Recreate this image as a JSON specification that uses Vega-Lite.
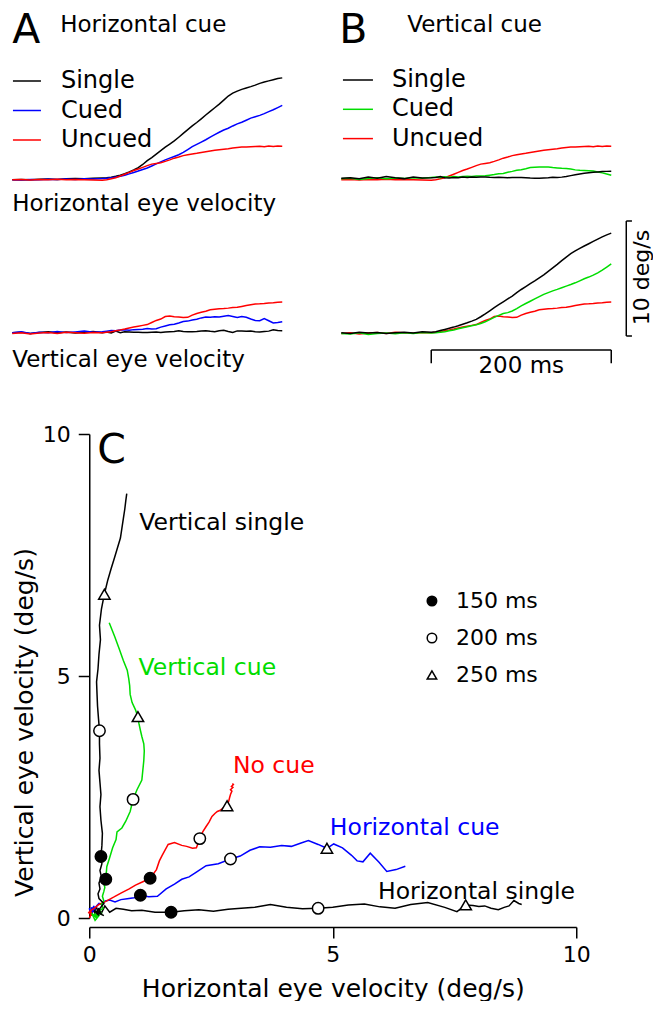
{
  "$schema": "https://vega.github.io/schema/vega-lite/v6.json",
  "background": "white",
  "padding": {"left": 8.25, "top": 0, "right": 0, "bottom": 0},
  "bounds": "flush",
  "spacing": 0,
  "config": {
    "font": "DejaVu Sans",
    "view": {"stroke": null},
    "axis": {"labelColor": "black", "titleColor": "black", "domainColor": "black", "tickColor": "black", "titleFontWeight": "normal", "grid": false},
    "legend": {"labelColor": "black", "labelFont": "DejaVu Sans", "padding": 0}
  },
  "resolve": {"scale": {"x": "independent", "y": "independent", "color": "independent", "shape": "independent", "fill": "independent", "stroke": "independent"}, "legend": {"color": "independent", "shape": "independent", "fill": "independent", "stroke": "independent"}},
  "datasets": {
    "traces": [
      {"cond":"Horizontal single","t":0,"h":0.02,"v":0.1},
      {"cond":"Horizontal single","t":10,"h":0.05,"v":0.15},
      {"cond":"Horizontal single","t":20,"h":0.03,"v":0.05},
      {"cond":"Horizontal single","t":30,"h":0.06,"v":0.12},
      {"cond":"Horizontal single","t":40,"h":0.08,"v":0.2},
      {"cond":"Horizontal single","t":50,"h":0.05,"v":0.1},
      {"cond":"Horizontal single","t":60,"h":0.1,"v":0.18},
      {"cond":"Horizontal single","t":70,"h":0.12,"v":0.08},
      {"cond":"Horizontal single","t":80,"h":0.1,"v":0.15},
      {"cond":"Horizontal single","t":90,"h":0.15,"v":0.22},
      {"cond":"Horizontal single","t":100,"h":0.18,"v":0.12},
      {"cond":"Horizontal single","t":105,"h":0.2,"v":0.18},
      {"cond":"Horizontal single","t":110,"h":0.25,"v":0.1},
      {"cond":"Horizontal single","t":115,"h":0.32,"v":0.25},
      {"cond":"Horizontal single","t":120,"h":0.42,"v":0.12},
      {"cond":"Horizontal single","t":125,"h":0.55,"v":0.2},
      {"cond":"Horizontal single","t":130,"h":0.7,"v":0.18},
      {"cond":"Horizontal single","t":135,"h":0.87,"v":0.15},
      {"cond":"Horizontal single","t":140,"h":1.08,"v":0.16},
      {"cond":"Horizontal single","t":145,"h":1.35,"v":0.12},
      {"cond":"Horizontal single","t":150,"h":1.68,"v":0.12},
      {"cond":"Horizontal single","t":155,"h":1.95,"v":0.15},
      {"cond":"Horizontal single","t":160,"h":2.25,"v":0.17},
      {"cond":"Horizontal single","t":165,"h":2.55,"v":0.14},
      {"cond":"Horizontal single","t":170,"h":2.85,"v":0.18},
      {"cond":"Horizontal single","t":175,"h":3.12,"v":0.2},
      {"cond":"Horizontal single","t":180,"h":3.4,"v":0.22},
      {"cond":"Horizontal single","t":185,"h":3.72,"v":0.28},
      {"cond":"Horizontal single","t":190,"h":4.05,"v":0.22},
      {"cond":"Horizontal single","t":195,"h":4.38,"v":0.19},
      {"cond":"Horizontal single","t":200,"h":4.7,"v":0.2},
      {"cond":"Horizontal single","t":205,"h":5.0,"v":0.22},
      {"cond":"Horizontal single","t":210,"h":5.32,"v":0.27},
      {"cond":"Horizontal single","t":215,"h":5.65,"v":0.29},
      {"cond":"Horizontal single","t":220,"h":5.97,"v":0.23},
      {"cond":"Horizontal single","t":225,"h":6.28,"v":0.2},
      {"cond":"Horizontal single","t":230,"h":6.6,"v":0.28},
      {"cond":"Horizontal single","t":235,"h":6.95,"v":0.32},
      {"cond":"Horizontal single","t":240,"h":7.3,"v":0.22},
      {"cond":"Horizontal single","t":245,"h":7.55,"v":0.13},
      {"cond":"Horizontal single","t":250,"h":7.73,"v":0.27},
      {"cond":"Horizontal single","t":255,"h":7.88,"v":0.26},
      {"cond":"Horizontal single","t":260,"h":8.0,"v":0.24},
      {"cond":"Horizontal single","t":265,"h":8.12,"v":0.25},
      {"cond":"Horizontal single","t":270,"h":8.25,"v":0.2},
      {"cond":"Horizontal single","t":275,"h":8.4,"v":0.17},
      {"cond":"Horizontal single","t":280,"h":8.52,"v":0.22},
      {"cond":"Horizontal single","t":285,"h":8.62,"v":0.25},
      {"cond":"Horizontal single","t":290,"h":8.72,"v":0.36},
      {"cond":"Horizontal single","t":295,"h":8.82,"v":0.3},
      {"cond":"Horizontal single","t":300,"h":8.88,"v":0.28},

      {"cond":"Horizontal cue","t":0,"h":0.03,"v":0.1},
      {"cond":"Horizontal cue","t":10,"h":0.0,"v":0.2},
      {"cond":"Horizontal cue","t":20,"h":0.05,"v":0.05},
      {"cond":"Horizontal cue","t":30,"h":0.02,"v":0.15},
      {"cond":"Horizontal cue","t":40,"h":0.06,"v":0.1},
      {"cond":"Horizontal cue","t":50,"h":0.04,"v":0.22},
      {"cond":"Horizontal cue","t":60,"h":0.08,"v":0.12},
      {"cond":"Horizontal cue","t":70,"h":0.05,"v":0.18},
      {"cond":"Horizontal cue","t":80,"h":0.1,"v":0.25},
      {"cond":"Horizontal cue","t":90,"h":0.08,"v":0.15},
      {"cond":"Horizontal cue","t":100,"h":0.12,"v":0.2},
      {"cond":"Horizontal cue","t":105,"h":0.15,"v":0.25},
      {"cond":"Horizontal cue","t":110,"h":0.2,"v":0.3},
      {"cond":"Horizontal cue","t":115,"h":0.26,"v":0.28},
      {"cond":"Horizontal cue","t":120,"h":0.33,"v":0.35},
      {"cond":"Horizontal cue","t":125,"h":0.42,"v":0.37},
      {"cond":"Horizontal cue","t":130,"h":0.53,"v":0.33},
      {"cond":"Horizontal cue","t":135,"h":0.65,"v":0.38},
      {"cond":"Horizontal cue","t":140,"h":0.78,"v":0.4},
      {"cond":"Horizontal cue","t":145,"h":0.92,"v":0.42},
      {"cond":"Horizontal cue","t":150,"h":1.05,"v":0.47},
      {"cond":"Horizontal cue","t":155,"h":1.22,"v":0.44},
      {"cond":"Horizontal cue","t":160,"h":1.4,"v":0.45},
      {"cond":"Horizontal cue","t":165,"h":1.58,"v":0.6},
      {"cond":"Horizontal cue","t":170,"h":1.75,"v":0.7},
      {"cond":"Horizontal cue","t":175,"h":1.9,"v":0.8},
      {"cond":"Horizontal cue","t":180,"h":2.05,"v":0.85},
      {"cond":"Horizontal cue","t":185,"h":2.2,"v":0.95},
      {"cond":"Horizontal cue","t":190,"h":2.4,"v":1.08},
      {"cond":"Horizontal cue","t":195,"h":2.65,"v":1.12},
      {"cond":"Horizontal cue","t":200,"h":2.9,"v":1.22},
      {"cond":"Horizontal cue","t":205,"h":3.1,"v":1.28},
      {"cond":"Horizontal cue","t":210,"h":3.3,"v":1.4},
      {"cond":"Horizontal cue","t":215,"h":3.5,"v":1.47},
      {"cond":"Horizontal cue","t":220,"h":3.72,"v":1.46},
      {"cond":"Horizontal cue","t":225,"h":3.95,"v":1.5},
      {"cond":"Horizontal cue","t":230,"h":4.15,"v":1.48},
      {"cond":"Horizontal cue","t":235,"h":4.35,"v":1.55},
      {"cond":"Horizontal cue","t":240,"h":4.5,"v":1.6},
      {"cond":"Horizontal cue","t":245,"h":4.7,"v":1.52},
      {"cond":"Horizontal cue","t":250,"h":4.88,"v":1.44},
      {"cond":"Horizontal cue","t":255,"h":5.02,"v":1.53},
      {"cond":"Horizontal cue","t":260,"h":5.2,"v":1.45},
      {"cond":"Horizontal cue","t":265,"h":5.38,"v":1.3},
      {"cond":"Horizontal cue","t":270,"h":5.5,"v":1.18},
      {"cond":"Horizontal cue","t":275,"h":5.62,"v":1.16},
      {"cond":"Horizontal cue","t":280,"h":5.77,"v":1.34},
      {"cond":"Horizontal cue","t":285,"h":5.95,"v":1.15},
      {"cond":"Horizontal cue","t":290,"h":6.11,"v":0.96},
      {"cond":"Horizontal cue","t":295,"h":6.3,"v":1.0},
      {"cond":"Horizontal cue","t":300,"h":6.49,"v":1.07},

      {"cond":"No cue","t":0,"h":0.02,"v":0.05},
      {"cond":"No cue","t":10,"h":0.05,"v":0.1},
      {"cond":"No cue","t":20,"h":0.0,"v":0.0},
      {"cond":"No cue","t":30,"h":0.04,"v":0.08},
      {"cond":"No cue","t":40,"h":0.03,"v":0.12},
      {"cond":"No cue","t":50,"h":0.06,"v":0.05},
      {"cond":"No cue","t":60,"h":0.02,"v":0.15},
      {"cond":"No cue","t":70,"h":0.05,"v":0.1},
      {"cond":"No cue","t":80,"h":0.03,"v":0.06},
      {"cond":"No cue","t":90,"h":0.0,"v":0.12},
      {"cond":"No cue","t":100,"h":-0.02,"v":0.1},
      {"cond":"No cue","t":105,"h":0.02,"v":0.15},
      {"cond":"No cue","t":110,"h":0.1,"v":0.2},
      {"cond":"No cue","t":115,"h":0.2,"v":0.28},
      {"cond":"No cue","t":120,"h":0.35,"v":0.35},
      {"cond":"No cue","t":125,"h":0.5,"v":0.43},
      {"cond":"No cue","t":130,"h":0.66,"v":0.52},
      {"cond":"No cue","t":135,"h":0.82,"v":0.6},
      {"cond":"No cue","t":140,"h":0.95,"v":0.68},
      {"cond":"No cue","t":145,"h":1.1,"v":0.75},
      {"cond":"No cue","t":150,"h":1.25,"v":0.82},
      {"cond":"No cue","t":155,"h":1.38,"v":1.0},
      {"cond":"No cue","t":160,"h":1.44,"v":1.18},
      {"cond":"No cue","t":165,"h":1.5,"v":1.3},
      {"cond":"No cue","t":170,"h":1.62,"v":1.52},
      {"cond":"No cue","t":175,"h":1.75,"v":1.56},
      {"cond":"No cue","t":180,"h":1.9,"v":1.5},
      {"cond":"No cue","t":185,"h":2.0,"v":1.48},
      {"cond":"No cue","t":190,"h":2.12,"v":1.44},
      {"cond":"No cue","t":195,"h":2.2,"v":1.45},
      {"cond":"No cue","t":200,"h":2.27,"v":1.64},
      {"cond":"No cue","t":205,"h":2.33,"v":1.78},
      {"cond":"No cue","t":210,"h":2.4,"v":1.89},
      {"cond":"No cue","t":215,"h":2.46,"v":1.98},
      {"cond":"No cue","t":220,"h":2.52,"v":2.1},
      {"cond":"No cue","t":225,"h":2.58,"v":2.16},
      {"cond":"No cue","t":230,"h":2.63,"v":2.2},
      {"cond":"No cue","t":235,"h":2.68,"v":2.22},
      {"cond":"No cue","t":240,"h":2.72,"v":2.25},
      {"cond":"No cue","t":245,"h":2.78,"v":2.3},
      {"cond":"No cue","t":250,"h":2.83,"v":2.32},
      {"cond":"No cue","t":255,"h":2.86,"v":2.4},
      {"cond":"No cue","t":260,"h":2.88,"v":2.48},
      {"cond":"No cue","t":265,"h":2.9,"v":2.55},
      {"cond":"No cue","t":270,"h":2.92,"v":2.6},
      {"cond":"No cue","t":275,"h":2.93,"v":2.62},
      {"cond":"No cue","t":280,"h":2.9,"v":2.65},
      {"cond":"No cue","t":285,"h":2.95,"v":2.7},
      {"cond":"No cue","t":290,"h":2.92,"v":2.72},
      {"cond":"No cue","t":295,"h":2.96,"v":2.76},
      {"cond":"No cue","t":300,"h":2.94,"v":2.78},

      {"cond":"Vertical cue","t":0,"h":0.1,"v":0.05},
      {"cond":"Vertical cue","t":10,"h":0.15,"v":0.0},
      {"cond":"Vertical cue","t":20,"h":0.05,"v":0.1},
      {"cond":"Vertical cue","t":30,"h":0.12,"v":-0.05},
      {"cond":"Vertical cue","t":40,"h":0.2,"v":0.05},
      {"cond":"Vertical cue","t":50,"h":0.1,"v":0.08},
      {"cond":"Vertical cue","t":60,"h":0.18,"v":0.02},
      {"cond":"Vertical cue","t":70,"h":0.12,"v":0.1},
      {"cond":"Vertical cue","t":80,"h":0.2,"v":0.05},
      {"cond":"Vertical cue","t":90,"h":0.15,"v":0.12},
      {"cond":"Vertical cue","t":100,"h":0.22,"v":0.08},
      {"cond":"Vertical cue","t":105,"h":0.25,"v":0.1},
      {"cond":"Vertical cue","t":110,"h":0.2,"v":0.15},
      {"cond":"Vertical cue","t":115,"h":0.28,"v":0.2},
      {"cond":"Vertical cue","t":120,"h":0.25,"v":0.28},
      {"cond":"Vertical cue","t":125,"h":0.3,"v":0.35},
      {"cond":"Vertical cue","t":130,"h":0.27,"v":0.45},
      {"cond":"Vertical cue","t":135,"h":0.3,"v":0.55},
      {"cond":"Vertical cue","t":140,"h":0.32,"v":0.63},
      {"cond":"Vertical cue","t":145,"h":0.3,"v":0.72},
      {"cond":"Vertical cue","t":150,"h":0.34,"v":0.8},
      {"cond":"Vertical cue","t":155,"h":0.35,"v":0.92},
      {"cond":"Vertical cue","t":160,"h":0.36,"v":1.06},
      {"cond":"Vertical cue","t":165,"h":0.42,"v":1.25},
      {"cond":"Vertical cue","t":170,"h":0.48,"v":1.45},
      {"cond":"Vertical cue","t":175,"h":0.55,"v":1.62},
      {"cond":"Vertical cue","t":180,"h":0.57,"v":1.78},
      {"cond":"Vertical cue","t":185,"h":0.67,"v":1.86},
      {"cond":"Vertical cue","t":190,"h":0.75,"v":2.0},
      {"cond":"Vertical cue","t":195,"h":0.84,"v":2.2},
      {"cond":"Vertical cue","t":200,"h":0.9,"v":2.45},
      {"cond":"Vertical cue","t":205,"h":0.98,"v":2.65},
      {"cond":"Vertical cue","t":210,"h":1.08,"v":2.85},
      {"cond":"Vertical cue","t":215,"h":1.1,"v":3.05},
      {"cond":"Vertical cue","t":220,"h":1.12,"v":3.25},
      {"cond":"Vertical cue","t":225,"h":1.13,"v":3.45},
      {"cond":"Vertical cue","t":230,"h":1.12,"v":3.6},
      {"cond":"Vertical cue","t":235,"h":1.08,"v":3.75},
      {"cond":"Vertical cue","t":240,"h":1.05,"v":3.88},
      {"cond":"Vertical cue","t":245,"h":1.02,"v":4.02},
      {"cond":"Vertical cue","t":250,"h":1.0,"v":4.16},
      {"cond":"Vertical cue","t":255,"h":0.95,"v":4.3},
      {"cond":"Vertical cue","t":260,"h":0.88,"v":4.45},
      {"cond":"Vertical cue","t":265,"h":0.84,"v":4.62},
      {"cond":"Vertical cue","t":270,"h":0.83,"v":4.8},
      {"cond":"Vertical cue","t":275,"h":0.81,"v":4.95},
      {"cond":"Vertical cue","t":280,"h":0.78,"v":5.12},
      {"cond":"Vertical cue","t":285,"h":0.7,"v":5.32},
      {"cond":"Vertical cue","t":290,"h":0.62,"v":5.55},
      {"cond":"Vertical cue","t":295,"h":0.52,"v":5.82},
      {"cond":"Vertical cue","t":300,"h":0.41,"v":6.1},

      {"cond":"Vertical single","t":0,"h":0.15,"v":0.1},
      {"cond":"Vertical single","t":10,"h":0.2,"v":0.05},
      {"cond":"Vertical single","t":20,"h":0.1,"v":0.15},
      {"cond":"Vertical single","t":30,"h":0.25,"v":0.08},
      {"cond":"Vertical single","t":40,"h":0.15,"v":0.12},
      {"cond":"Vertical single","t":50,"h":0.3,"v":0.05},
      {"cond":"Vertical single","t":60,"h":0.2,"v":0.1},
      {"cond":"Vertical single","t":70,"h":0.12,"v":0.15},
      {"cond":"Vertical single","t":80,"h":0.25,"v":0.08},
      {"cond":"Vertical single","t":90,"h":0.18,"v":0.2},
      {"cond":"Vertical single","t":100,"h":0.2,"v":0.15},
      {"cond":"Vertical single","t":105,"h":0.22,"v":0.2},
      {"cond":"Vertical single","t":110,"h":0.3,"v":0.3},
      {"cond":"Vertical single","t":115,"h":0.2,"v":0.4},
      {"cond":"Vertical single","t":120,"h":0.18,"v":0.5},
      {"cond":"Vertical single","t":125,"h":0.22,"v":0.6},
      {"cond":"Vertical single","t":130,"h":0.2,"v":0.72},
      {"cond":"Vertical single","t":135,"h":0.25,"v":0.85},
      {"cond":"Vertical single","t":140,"h":0.22,"v":0.98},
      {"cond":"Vertical single","t":145,"h":0.26,"v":1.12},
      {"cond":"Vertical single","t":150,"h":0.24,"v":1.27},
      {"cond":"Vertical single","t":155,"h":0.26,"v":1.5},
      {"cond":"Vertical single","t":160,"h":0.27,"v":1.75},
      {"cond":"Vertical single","t":165,"h":0.24,"v":2.02},
      {"cond":"Vertical single","t":170,"h":0.22,"v":2.3},
      {"cond":"Vertical single","t":175,"h":0.24,"v":2.55},
      {"cond":"Vertical single","t":180,"h":0.22,"v":2.8},
      {"cond":"Vertical single","t":185,"h":0.2,"v":3.05},
      {"cond":"Vertical single","t":190,"h":0.22,"v":3.3},
      {"cond":"Vertical single","t":195,"h":0.21,"v":3.6},
      {"cond":"Vertical single","t":200,"h":0.21,"v":3.87},
      {"cond":"Vertical single","t":205,"h":0.19,"v":4.12},
      {"cond":"Vertical single","t":210,"h":0.17,"v":4.38},
      {"cond":"Vertical single","t":215,"h":0.16,"v":4.62},
      {"cond":"Vertical single","t":220,"h":0.15,"v":4.88},
      {"cond":"Vertical single","t":225,"h":0.18,"v":5.15},
      {"cond":"Vertical single","t":230,"h":0.2,"v":5.45},
      {"cond":"Vertical single","t":235,"h":0.23,"v":5.75},
      {"cond":"Vertical single","t":240,"h":0.21,"v":6.05},
      {"cond":"Vertical single","t":245,"h":0.25,"v":6.38},
      {"cond":"Vertical single","t":250,"h":0.31,"v":6.69},
      {"cond":"Vertical single","t":255,"h":0.38,"v":6.98},
      {"cond":"Vertical single","t":260,"h":0.45,"v":7.22},
      {"cond":"Vertical single","t":265,"h":0.52,"v":7.45},
      {"cond":"Vertical single","t":270,"h":0.58,"v":7.65},
      {"cond":"Vertical single","t":275,"h":0.64,"v":7.85},
      {"cond":"Vertical single","t":280,"h":0.67,"v":8.05},
      {"cond":"Vertical single","t":285,"h":0.7,"v":8.25},
      {"cond":"Vertical single","t":290,"h":0.73,"v":8.45},
      {"cond":"Vertical single","t":295,"h":0.75,"v":8.62},
      {"cond":"Vertical single","t":300,"h":0.77,"v":8.77}
    ]
  },
  "vconcat": [
    {
      "width": 522,
      "height": 215,
      "resolve": {"scale": {"x": "independent", "color": "independent"}},
      "layer": [
        {
          "data": {"name": "traces"},
          "transform": [{"filter": {"field": "cond", "oneOf": ["Horizontal single", "Horizontal cue", "No cue"]}}],
          "mark": {"type": "line", "strokeWidth": 1.5},
          "encoding": {
            "x": {"field": "t", "type": "quantitative", "scale": {"domain": [85.556, 665.556], "nice": false, "zero": false}, "axis": null},
            "y": {"field": "h", "type": "quantitative", "scale": {"domain": [-3.0435, 15.6522], "nice": false, "zero": false}, "axis": null},
            "color": {
              "field": "cond", "type": "nominal",
              "scale": {"domain": ["Horizontal single", "Horizontal cue", "No cue"], "range": ["black", "blue", "red"]},
              "legend": {"orient": "none", "legendX": -77.3, "legendY": 66, "title": null, "symbolType": "stroke", "symbolSize": 784, "symbolStrokeWidth": 1.5, "labelFontSize": 24, "labelOffset": 19, "rowPadding": 2.5, "padding": 0,
                "labelExpr": "datum.label == 'No cue' ? 'Uncued' : (indexof(datum.label, 'single') >= 0 ? 'Single' : 'Cued')"}
            }
          }
        },
        {
          "data": {"name": "traces"},
          "transform": [{"filter": {"field": "cond", "oneOf": ["Vertical single", "Vertical cue", "No cue"]}}],
          "mark": {"type": "line", "strokeWidth": 1.5},
          "encoding": {
            "x": {"field": "t", "type": "quantitative", "scale": {"domain": [-280, 300], "nice": false, "zero": false}, "axis": null},
            "y": {"field": "h", "type": "quantitative", "scale": {"domain": [-3.0435, 15.6522], "nice": false, "zero": false}, "axis": null},
            "color": {
              "field": "cond", "type": "nominal",
              "scale": {"domain": ["Vertical single", "Vertical cue", "No cue"], "range": ["black", "#00dd00", "red"]},
              "legend": {"orient": "none", "legendX": 252.7, "legendY": 64, "title": null, "symbolType": "stroke", "symbolSize": 900, "symbolStrokeWidth": 1.5, "labelFontSize": 24, "labelOffset": 18, "rowPadding": 1.3, "padding": 0,
                "labelExpr": "datum.label == 'No cue' ? 'Uncued' : (indexof(datum.label, 'single') >= 0 ? 'Single' : 'Cued')"}
            }
          }
        },
        {
          "data": {"values": [{}]},
          "mark": {"type": "text", "text": "A", "align": "left", "baseline": "alphabetic", "fontSize": 41, "color": "black"},
          "encoding": {
            "x": {"datum": 0, "type": "quantitative", "scale": {"domain": [85.556, 665.556], "nice": false, "zero": false}, "axis": null},
            "y": {"datum": 11.87, "type": "quantitative", "scale": {"domain": [-3.0435, 15.6522], "nice": false, "zero": false}, "axis": null}
          }
        },
        {
          "data": {"values": [{}]},
          "mark": {"type": "text", "text": "Horizontal cue", "align": "left", "baseline": "alphabetic", "fontSize": 23, "color": "black"},
          "encoding": {
            "x": {"datum": 53.3, "type": "quantitative", "scale": {"domain": [85.556, 665.556], "nice": false, "zero": false}, "axis": null},
            "y": {"datum": 12.9, "type": "quantitative", "scale": {"domain": [-3.0435, 15.6522], "nice": false, "zero": false}, "axis": null}
          }
        },
        {
          "data": {"values": [{}]},
          "mark": {"type": "text", "text": "Horizontal eye velocity", "align": "left", "baseline": "alphabetic", "fontSize": 23, "color": "black"},
          "encoding": {
            "x": {"datum": 0, "type": "quantitative", "scale": {"domain": [85.556, 665.556], "nice": false, "zero": false}, "axis": null},
            "y": {"datum": -2.67, "type": "quantitative", "scale": {"domain": [-3.0435, 15.6522], "nice": false, "zero": false}, "axis": null}
          }
        },
        {
          "data": {"values": [{}]},
          "mark": {"type": "text", "text": "B", "align": "left", "baseline": "alphabetic", "fontSize": 41, "color": "black"},
          "encoding": {
            "x": {"datum": -2.2, "type": "quantitative", "scale": {"domain": [-280, 300], "nice": false, "zero": false}, "axis": null},
            "y": {"datum": 11.87, "type": "quantitative", "scale": {"domain": [-3.0435, 15.6522], "nice": false, "zero": false}, "axis": null}
          }
        },
        {
          "data": {"values": [{}]},
          "mark": {"type": "text", "text": "Vertical cue", "align": "left", "baseline": "alphabetic", "fontSize": 23, "color": "black"},
          "encoding": {
            "x": {"datum": 73.3, "type": "quantitative", "scale": {"domain": [-280, 300], "nice": false, "zero": false}, "axis": null},
            "y": {"datum": 12.9, "type": "quantitative", "scale": {"domain": [-3.0435, 15.6522], "nice": false, "zero": false}, "axis": null}
          }
        }
      ]
    },
    {
      "width": 522,
      "height": 219,
      "resolve": {"scale": {"x": "independent", "color": "independent"}},
      "layer": [
        {
          "data": {"name": "traces"},
          "transform": [{"filter": {"field": "cond", "oneOf": ["Horizontal single", "Horizontal cue", "No cue"]}}],
          "mark": {"type": "line", "strokeWidth": 1.5},
          "encoding": {
            "x": {"field": "t", "type": "quantitative", "scale": {"domain": [85.556, 665.556], "nice": false, "zero": false}, "axis": null},
            "y": {"field": "v", "type": "quantitative", "scale": {"domain": [-8.6957, 10.3478], "nice": false, "zero": false}, "axis": null},
            "color": {"field": "cond", "type": "nominal", "scale": {"domain": ["Horizontal single", "Horizontal cue", "No cue"], "range": ["black", "blue", "red"]}, "legend": null}
          }
        },
        {
          "data": {"name": "traces"},
          "transform": [{"filter": {"field": "cond", "oneOf": ["Vertical single", "Vertical cue", "No cue"]}}],
          "mark": {"type": "line", "strokeWidth": 1.5},
          "encoding": {
            "x": {"field": "t", "type": "quantitative", "scale": {"domain": [-280, 300], "nice": false, "zero": false}, "axis": null},
            "y": {"field": "v", "type": "quantitative", "scale": {"domain": [-8.6957, 10.3478], "nice": false, "zero": false}, "axis": null},
            "color": {"field": "cond", "type": "nominal", "scale": {"domain": ["Vertical single", "Vertical cue", "No cue"], "range": ["black", "#00dd00", "red"]}, "legend": null}
          }
        },
        {
          "data": {"values": [{}]},
          "mark": {"type": "text", "text": "Vertical eye velocity", "align": "left", "baseline": "alphabetic", "fontSize": 23, "color": "black"},
          "encoding": {
            "x": {"datum": 0, "type": "quantitative", "scale": {"domain": [85.556, 665.556], "nice": false, "zero": false}, "axis": null},
            "y": {"datum": -2.84, "type": "quantitative", "scale": {"domain": [-8.6957, 10.3478], "nice": false, "zero": false}, "axis": null}
          }
        },
        {
          "data": {"values": [{}]},
          "mark": {"type": "rule", "strokeWidth": 1.5, "color": "black"},
          "encoding": {
            "x": {"datum": 316.7, "type": "quantitative", "scale": {"domain": [-280, 300], "nice": false, "zero": false}, "axis": null},
            "y": {"datum": 9.826, "type": "quantitative", "scale": {"domain": [-8.6957, 10.3478], "nice": false, "zero": false}, "axis": null},
            "y2": {"datum": -0.174}
          }
        },
        {
          "data": {"values": [{}]},
          "mark": {"type": "rule", "strokeWidth": 1.5, "color": "black"},
          "encoding": {
            "x": {"datum": 316.7, "type": "quantitative", "scale": {"domain": [-280, 300], "nice": false, "zero": false}, "axis": null},
            "x2": {"datum": 323},
            "y": {"datum": 9.826, "type": "quantitative", "scale": {"domain": [-8.6957, 10.3478], "nice": false, "zero": false}, "axis": null}
          }
        },
        {
          "data": {"values": [{}]},
          "mark": {"type": "rule", "strokeWidth": 1.5, "color": "black"},
          "encoding": {
            "x": {"datum": 316.7, "type": "quantitative", "scale": {"domain": [-280, 300], "nice": false, "zero": false}, "axis": null},
            "x2": {"datum": 323},
            "y": {"datum": -0.174, "type": "quantitative", "scale": {"domain": [-8.6957, 10.3478], "nice": false, "zero": false}, "axis": null}
          }
        },
        {
          "data": {"values": [{}]},
          "mark": {"type": "rule", "strokeWidth": 1.5, "color": "black"},
          "encoding": {
            "x": {"datum": 100, "type": "quantitative", "scale": {"domain": [-280, 300], "nice": false, "zero": false}, "axis": null},
            "x2": {"datum": 300},
            "y": {"datum": -1.391, "type": "quantitative", "scale": {"domain": [-8.6957, 10.3478], "nice": false, "zero": false}, "axis": null}
          }
        },
        {
          "data": {"values": [{}]},
          "mark": {"type": "rule", "strokeWidth": 1.5, "color": "black"},
          "encoding": {
            "x": {"datum": 100, "type": "quantitative", "scale": {"domain": [-280, 300], "nice": false, "zero": false}, "axis": null},
            "y": {"datum": -1.391, "type": "quantitative", "scale": {"domain": [-8.6957, 10.3478], "nice": false, "zero": false}, "axis": null},
            "y2": {"datum": -2.55}
          }
        },
        {
          "data": {"values": [{}]},
          "mark": {"type": "rule", "strokeWidth": 1.5, "color": "black"},
          "encoding": {
            "x": {"datum": 300, "type": "quantitative", "scale": {"domain": [-280, 300], "nice": false, "zero": false}, "axis": null},
            "y": {"datum": -1.391, "type": "quantitative", "scale": {"domain": [-8.6957, 10.3478], "nice": false, "zero": false}, "axis": null},
            "y2": {"datum": -2.55}
          }
        },
        {
          "data": {"values": [{}]},
          "mark": {"type": "text", "text": "200 ms", "align": "center", "baseline": "alphabetic", "fontSize": 23, "color": "black"},
          "encoding": {
            "x": {"datum": 200, "type": "quantitative", "scale": {"domain": [-280, 300], "nice": false, "zero": false}, "axis": null},
            "y": {"datum": -3.42, "type": "quantitative", "scale": {"domain": [-8.6957, 10.3478], "nice": false, "zero": false}, "axis": null}
          }
        },
        {
          "data": {"values": [{}]},
          "mark": {"type": "text", "text": "10 deg/s", "align": "center", "baseline": "alphabetic", "angle": 270, "fontSize": 22, "color": "black"},
          "encoding": {
            "x": {"datum": 342, "type": "quantitative", "scale": {"domain": [-280, 300], "nice": false, "zero": false}, "axis": null},
            "y": {"datum": 4.91, "type": "quantitative", "scale": {"domain": [-8.6957, 10.3478], "nice": false, "zero": false}, "axis": null}
          }
        }
      ]
    },
    {
      "width": 487,
      "height": 484,
      "layer": [
        {
          "data": {"name": "traces"},
          "mark": {"type": "line", "strokeWidth": 1.5},
          "encoding": {
            "x": {"field": "h", "type": "quantitative", "scale": {"domain": [0, 10], "nice": false, "zero": false},
              "axis": {"values": [0, 5, 10], "offset": 9, "tickSize": 11, "tickWidth": 1.5, "domainWidth": 1.5, "labelFontSize": 22, "labelPadding": 6, "labelFlush": false, "labelOverlap": false, "title": "Horizontal eye velocity (deg/s)", "titleFontSize": 25, "titlePadding": 11}},
            "y": {"field": "v", "type": "quantitative", "scale": {"domain": [0, 10], "nice": false, "zero": false},
              "axis": {"values": [0, 5, 10], "offset": 0, "tickSize": 11, "tickWidth": 1.5, "domainWidth": 1.5, "labelFontSize": 22, "labelPadding": 8, "labelFlush": false, "labelOverlap": false, "title": "Vertical eye velocity (deg/s)", "titleFontSize": 25, "titleX": -52, "titleY": 288}},
            "color": {"field": "cond", "type": "nominal",
              "scale": {"domain": ["Horizontal single", "Horizontal cue", "No cue", "Vertical cue", "Vertical single"], "range": ["black", "blue", "red", "#00dd00", "black"]},
              "legend": null},
            "order": {"field": "t", "type": "quantitative"}
          }
        },
        {
          "data": {"name": "traces"},
          "transform": [{"filter": {"field": "t", "oneOf": [150, 200, 250]}}],
          "mark": {"type": "point", "filled": true, "strokeWidth": 1.5, "size": 130, "opacity": 1},
          "encoding": {
            "x": {"field": "h", "type": "quantitative", "scale": {"domain": [0, 10], "nice": false, "zero": false}},
            "y": {"field": "v", "type": "quantitative", "scale": {"domain": [0, 10], "nice": false, "zero": false}},
            "shape": {"field": "t", "type": "nominal", "scale": {"domain": [150, 200, 250], "range": ["circle", "circle", "triangle-up"]},
              "legend": {"orient": "none", "legendX": 331.7, "legendY": 156, "title": null, "labelExpr": "datum.label + ' ms'", "labelFontSize": 22, "labelOffset": 13, "symbolSize": 90, "symbolStrokeWidth": 1.5, "rowPadding": 15, "padding": 0}},
            "fill": {"field": "t", "type": "nominal", "scale": {"domain": [150, 200, 250], "range": ["black", "white", "white"]},
              "legend": {"orient": "none", "legendX": 331.7, "legendY": 156, "title": null, "labelExpr": "datum.label + ' ms'", "labelFontSize": 22, "labelOffset": 13, "symbolSize": 90, "symbolStrokeWidth": 1.5, "rowPadding": 15, "padding": 0}},
            "stroke": {"field": "t", "type": "nominal", "scale": {"domain": [150, 200, 250], "range": ["black", "black", "black"]},
              "legend": {"orient": "none", "legendX": 331.7, "legendY": 156, "title": null, "labelExpr": "datum.label + ' ms'", "labelFontSize": 22, "labelOffset": 13, "symbolSize": 90, "symbolStrokeWidth": 1.5, "rowPadding": 15, "padding": 0}}
          }
        },
        {
          "data": {"values": [{}]},
          "mark": {"type": "text", "text": "C", "align": "left", "baseline": "alphabetic", "fontSize": 41, "color": "black"},
          "encoding": {
            "x": {"datum": 0.164, "type": "quantitative", "scale": {"domain": [0, 10], "nice": false, "zero": false}},
            "y": {"datum": 9.4, "type": "quantitative", "scale": {"domain": [0, 10], "nice": false, "zero": false}}
          }
        },
        {
          "data": {"values": [{}]},
          "mark": {"type": "text", "text": "Vertical single", "align": "left", "baseline": "alphabetic", "fontSize": 23.5, "color": "black"},
          "encoding": {
            "x": {"datum": 1.027, "type": "quantitative", "scale": {"domain": [0, 10], "nice": false, "zero": false}},
            "y": {"datum": 8.02, "type": "quantitative", "scale": {"domain": [0, 10], "nice": false, "zero": false}}
          }
        },
        {
          "data": {"values": [{}]},
          "mark": {"type": "text", "text": "Vertical cue", "align": "left", "baseline": "alphabetic", "fontSize": 23.5, "color": "#00dd00"},
          "encoding": {
            "x": {"datum": 1.01, "type": "quantitative", "scale": {"domain": [0, 10], "nice": false, "zero": false}},
            "y": {"datum": 5.02, "type": "quantitative", "scale": {"domain": [0, 10], "nice": false, "zero": false}}
          }
        },
        {
          "data": {"values": [{}]},
          "mark": {"type": "text", "text": "No cue", "align": "left", "baseline": "alphabetic", "fontSize": 23.5, "color": "red"},
          "encoding": {
            "x": {"datum": 2.95, "type": "quantitative", "scale": {"domain": [0, 10], "nice": false, "zero": false}},
            "y": {"datum": 3.0, "type": "quantitative", "scale": {"domain": [0, 10], "nice": false, "zero": false}}
          }
        },
        {
          "data": {"values": [{}]},
          "mark": {"type": "text", "text": "Horizontal cue", "align": "left", "baseline": "alphabetic", "fontSize": 23.5, "color": "blue"},
          "encoding": {
            "x": {"datum": 4.94, "type": "quantitative", "scale": {"domain": [0, 10], "nice": false, "zero": false}},
            "y": {"datum": 1.71, "type": "quantitative", "scale": {"domain": [0, 10], "nice": false, "zero": false}}
          }
        },
        {
          "data": {"values": [{}]},
          "mark": {"type": "text", "text": "Horizontal single", "align": "left", "baseline": "alphabetic", "fontSize": 23.5, "color": "black"},
          "encoding": {
            "x": {"datum": 5.93, "type": "quantitative", "scale": {"domain": [0, 10], "nice": false, "zero": false}},
            "y": {"datum": 0.386, "type": "quantitative", "scale": {"domain": [0, 10], "nice": false, "zero": false}}
          }
        }
      ]
    }
  ]
}
